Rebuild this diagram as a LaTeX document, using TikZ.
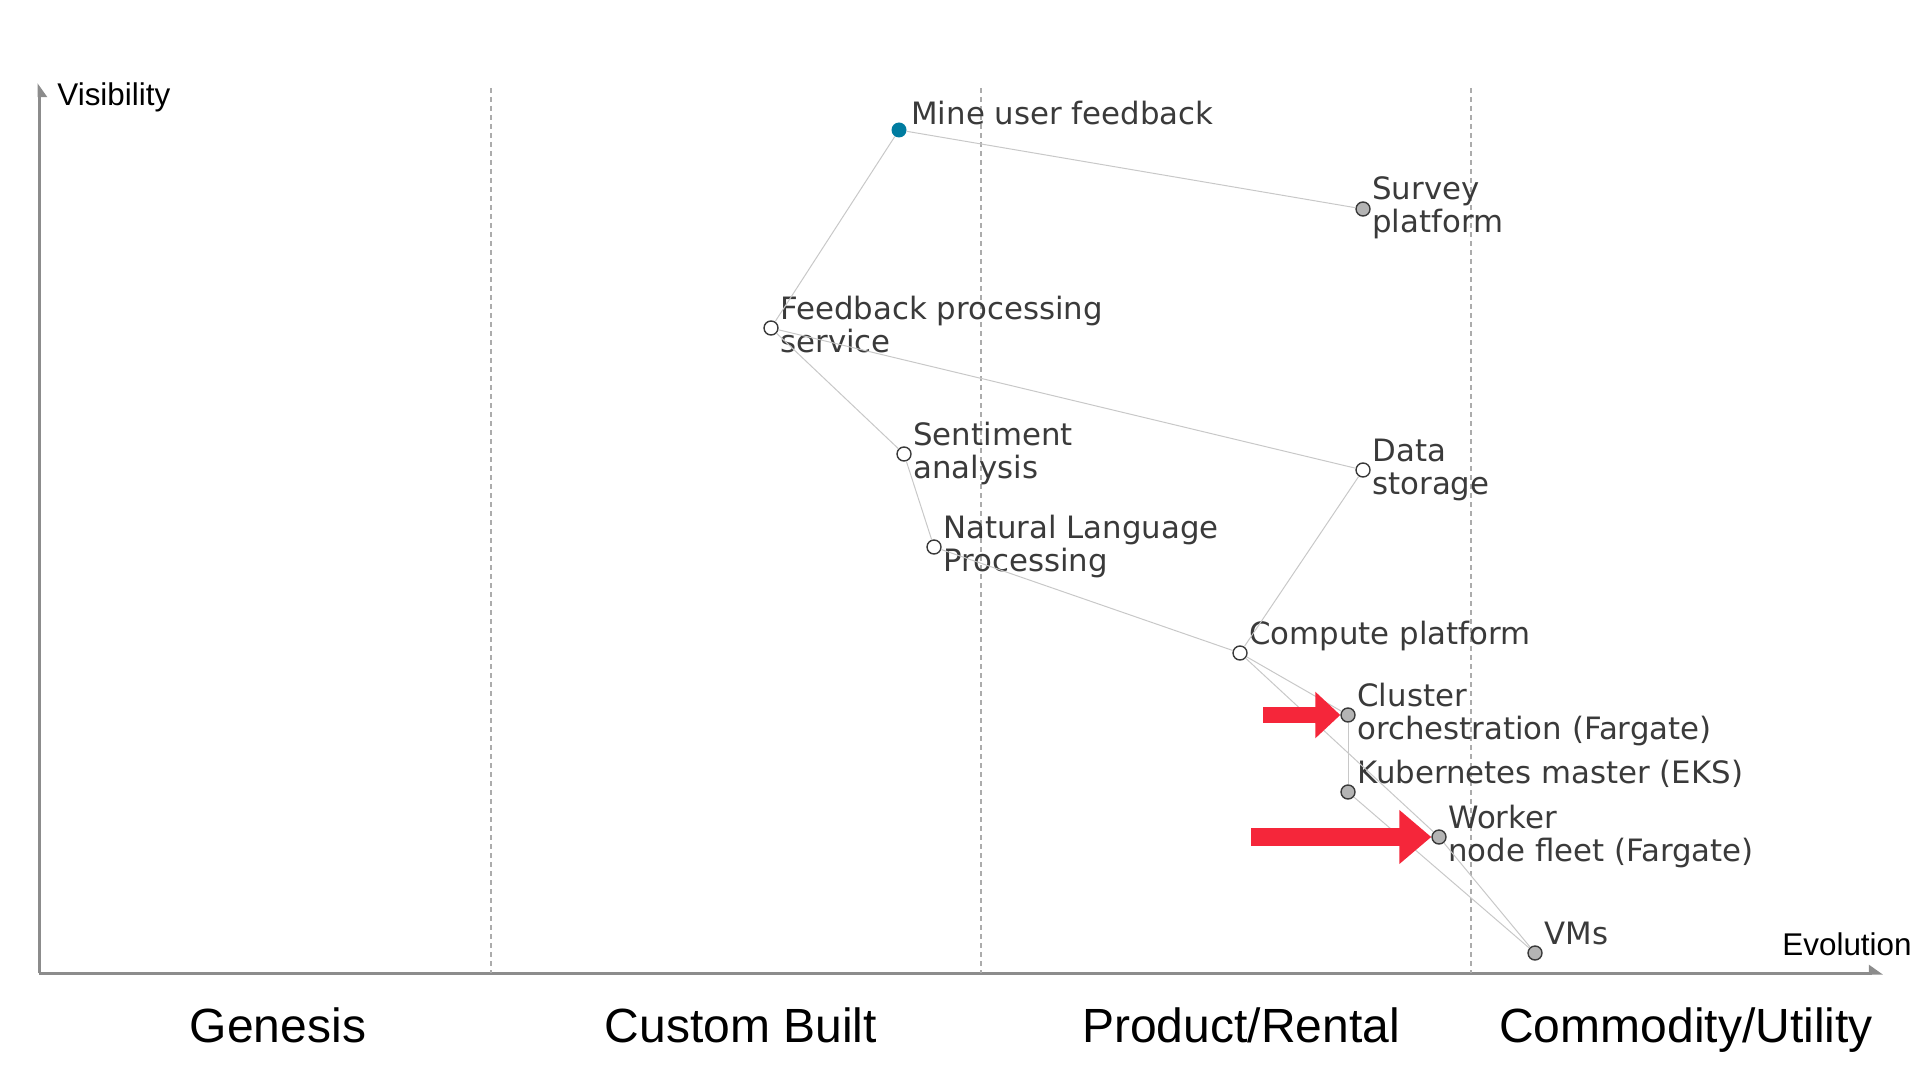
\documentclass[tikz,border=0pt]{standalone}
\usepackage{fontspec}
\setmainfont{Liberation Sans}
\newfontfamily\mapfont{DejaVu Sans}
\usetikzlibrary{arrows.meta}

\definecolor{labelgrey}{RGB}{58,58,58}
\definecolor{edgegrey}{RGB}{200,200,200}
\definecolor{axisgrey}{RGB}{140,140,140}
\definecolor{stagegrey}{RGB}{172,172,172}
\definecolor{anchorteal}{RGB}{0,124,160}
\definecolor{compgrey}{RGB}{180,180,180}
\definecolor{hilitered}{RGB}{245,38,58}

\begin{document}
\begin{tikzpicture}[x=0.5pt, y=-0.5pt,
  comp/.style={circle, draw=labelgrey, line width=0.7pt, minimum size=7pt, inner sep=0pt, fill=white},
  bought/.style={comp, fill=compgrey},
  user/.style={circle, fill=anchorteal, minimum size=7.5pt, inner sep=0pt},
  lbl/.style={font=\mapfont\fontsize{15.4}{16.5}\selectfont, text=labelgrey, align=left, inner sep=0pt, anchor=base west},
  link/.style={edgegrey, line width=0.5pt},
  axis/.style={axisgrey, line width=1.5pt},
  axislbl/.style={font=\fontsize{15.7}{18}\selectfont, inner sep=0pt, anchor=base west},
  stage/.style={font=\fontsize{24}{28}\selectfont, inner sep=0pt, anchor=base},
  hilite/.style={hilitered, line width=8pt}
]
\useasboundingbox (0,0) rectangle (1920,1080);

% axes
\coordinate (origin) at (39,973);
\coordinate (ytop) at (39,83);
\coordinate (xend) at (1883,973);
\draw[axis, -{Triangle[right, length=6pt, width=8pt]}] (origin) -- (ytop);
\draw[axis, -{Triangle[left, length=6pt, width=8pt]}] (origin) -- (xend);
\node[axislbl] (vis) at (57,106) {Visibility};
\node[axislbl] (evo) at (1782,955) {Evolution};

% stages of evolution
\foreach \x in {491,981,1471}
  \draw[stagegrey, line width=1pt, dash pattern=on 2.5pt off 2pt] (\x,88) -- (\x,973);
\node[stage] (genesis) at (278,1042) {Genesis};
\node[stage] (custom) at (741,1042) {Custom Built};
\node[stage] (product) at (1241,1042) {Product/Rental};
\node[stage] (commodity) at (1686,1042) {Commodity/Utility};

% components
\node[user] (mine) at (899,130) {};
\node[bought] (survey) at (1363,209) {};
\node[comp] (feedback) at (771,328) {};
\node[comp] (sentiment) at (904,454) {};
\node[comp] (storage) at (1363,470) {};
\node[comp] (nlp) at (934,547) {};
\node[comp] (compute) at (1240,653) {};
\node[bought] (cluster) at (1348,715) {};
\node[bought] (kube) at (1348,792) {};
\node[bought] (worker) at (1439,837) {};
\node[bought] (vms) at (1535,953) {};

% labels (two-line ones sit on their last line)
\node[lbl] (mine-l) at ([shift={(12,-5)}]mine.center) {Mine user feedback};
\node[lbl] (survey-l) at ([shift={(9,24)}]survey.center) {Survey\\platform};
\node[lbl] (feedback-l) at ([shift={(9,24)}]feedback.center) {Feedback processing\\service};
\node[lbl] (sentiment-l) at ([shift={(9,24)}]sentiment.center) {Sentiment\\analysis};
\node[lbl] (storage-l) at ([shift={(9,24)}]storage.center) {Data\\storage};
\node[lbl] (nlp-l) at ([shift={(9,24)}]nlp.center) {Natural Language\\Processing};
\node[lbl] (compute-l) at ([shift={(9,-9)}]compute.center) {Compute platform};
\node[lbl] (cluster-l) at ([shift={(9,24)}]cluster.center) {Cluster\\orchestration (Fargate)};
\node[lbl] (kube-l) at ([shift={(9,-9)}]kube.center) {Kubernetes master (EKS)};
\node[lbl] (worker-l) at ([shift={(9,24)}]worker.center) {Worker\\node fleet (Fargate)};
\node[lbl] (vms-l) at ([shift={(9,-9)}]vms.center) {VMs};

% value chain
\draw[link] (mine) -- (survey);
\draw[link] (mine) -- (feedback);
\draw[link] (feedback) -- (storage);
\draw[link] (feedback) -- (sentiment);
\draw[link] (sentiment) -- (nlp);
\draw[link] (nlp) -- (compute);
\draw[link] (storage) -- (compute);
\draw[link] (compute) -- (cluster);
\draw[link] (compute) -- (worker);
\draw[link] (cluster) -- (kube);
\draw[link] (kube) -- (vms);
\draw[link] (worker) -- (vms);

% highlights
\coordinate (arrA) at (1263,715);
\coordinate (arrB) at (1251,837);
\draw[hilite, -{Triangle[length=12.5pt, width=22.5pt]}] (arrA) -- (cluster);
\draw[hilite, line width=9pt, -{Triangle[length=16pt, width=26pt]}] (arrB) -- (worker);

\end{tikzpicture}
\end{document}
